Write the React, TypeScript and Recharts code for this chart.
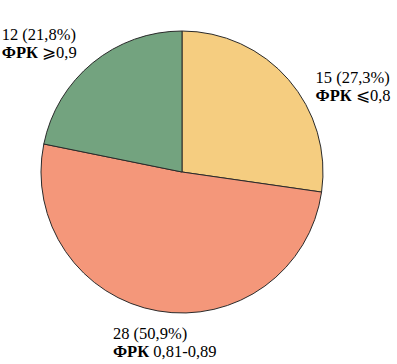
import { Cell, Pie, PieChart } from 'recharts'

const groups = ['ФРК ⩽0,8', 'ФРК 0,81-0,89', 'ФРК ⩾0,9']
const counts = [15, 28, 12]
const colors = ['#F5CD80', '#F4977A', '#73A37F']

// label nudges from the slice edge midpoint, per slice
const labelOffsets = [
  { dx: 27, dy: 3 },
  { dx: -45, dy: 28 },
  { dx: -91, dy: -23 },
]

const RADIAN = Math.PI / 180
const serif = '"Liberation Serif", "Times New Roman", serif'

const data = groups.map((name, i) => ({ name, value: counts[i] }))
const total = counts.reduce((a, b) => a + b, 0)

function renderLabel(props: any) {
  const { cx, cy, midAngle, outerRadius, index, value, name } = props
  const x = cx + outerRadius * Math.cos(-midAngle * RADIAN) + labelOffsets[index].dx
  const y = cy + outerRadius * Math.sin(-midAngle * RADIAN) + labelOffsets[index].dy
  const pct = ((value / total) * 100).toFixed(1).replace('.', ',')
  const [prefix, ...rest] = String(name).split(' ')
  return (
    <text x={x} y={y} fill="#000" textAnchor="start" fontFamily={serif} fontSize={16.5}>
      <tspan x={x}>{`${value} (${pct}%)`}</tspan>
      <tspan x={x} dy={18} fontWeight="bold">
        {prefix}
      </tspan>
      <tspan>{' ' + rest.join(' ')}</tspan>
    </text>
  )
}

export default function App() {
  return (
    <div style={{ position: 'absolute', left: 0, top: 0, width: 397, height: 364, background: '#fff' }}>
      <PieChart width={397} height={364} margin={{ top: 0, right: 0, bottom: 0, left: 0 }}>
        <Pie
          data={data}
          dataKey="value"
          nameKey="name"
          cx={182}
          cy={172}
          outerRadius={141}
          startAngle={90}
          endAngle={-270}
          stroke="#2a2a2a"
          strokeWidth={1}
          label={renderLabel}
          labelLine={false}
          isAnimationActive={false}
        >
          {data.map((d, i) => (
            <Cell key={d.name} fill={colors[i]} />
          ))}
        </Pie>
      </PieChart>
    </div>
  )
}
